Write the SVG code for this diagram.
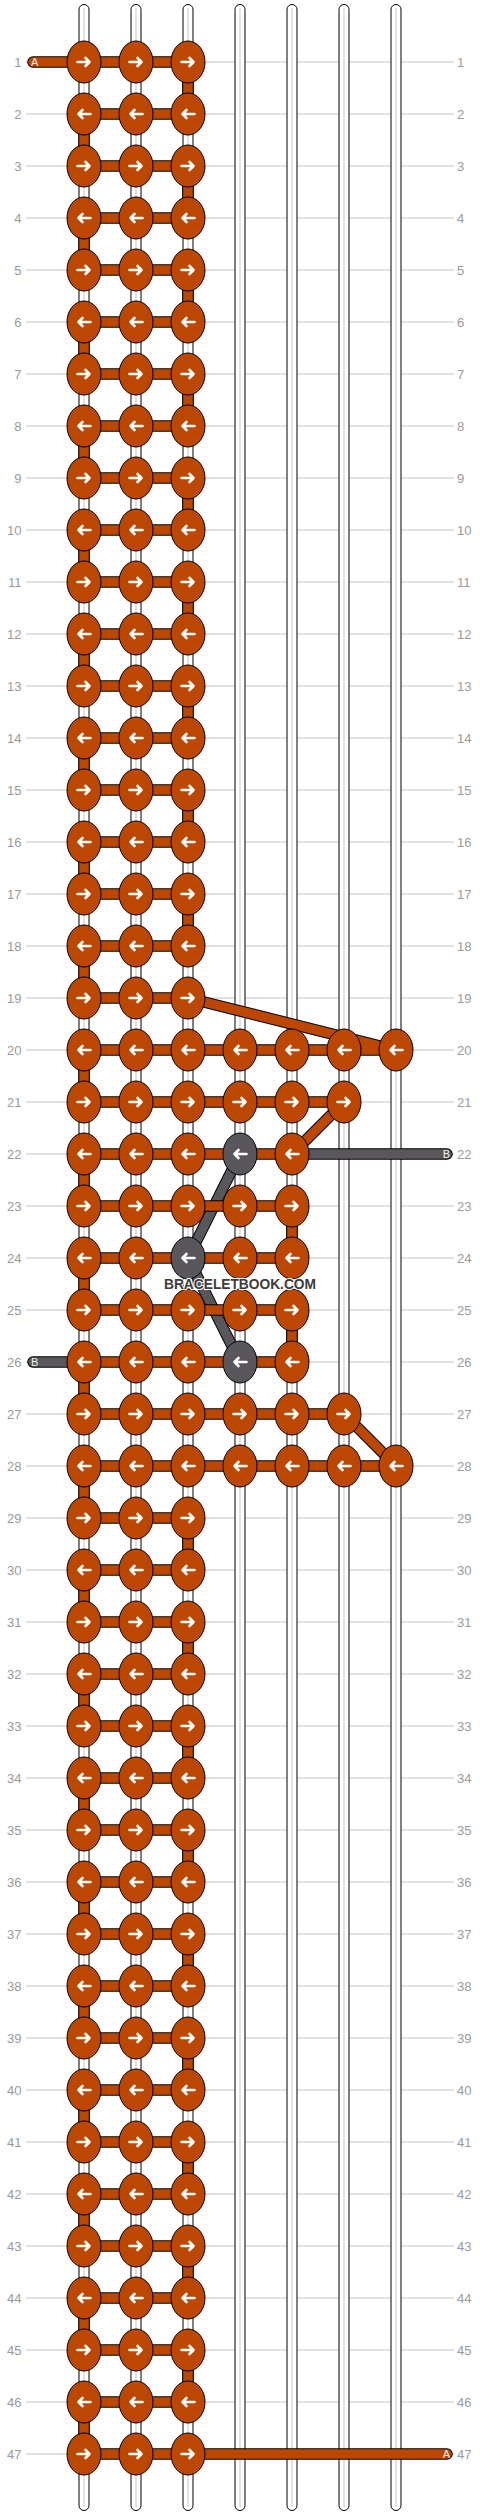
<svg xmlns="http://www.w3.org/2000/svg" xmlns:xlink="http://www.w3.org/1999/xlink" width="480" height="2516" viewBox="0 0 480 2516">
<style>
.grid{fill:none;stroke:#c2c2c2;stroke-width:1}
.sb{fill:#fff;stroke:#000;stroke-width:1}
.sc{fill:none;stroke:#c4c4c4;stroke-width:1}
.tb{fill:none;stroke:#000;stroke-width:11.5;stroke-linecap:round;stroke-linejoin:round}
.to{fill:none;stroke:#bc4700;stroke-width:9.5;stroke-linecap:round;stroke-linejoin:round}
.tg{fill:none;stroke:#59565c;stroke-width:9.5;stroke-linecap:round;stroke-linejoin:round}
.ko{fill:#bc4700;stroke:#000;stroke-width:1}
.kg{fill:#59565c;stroke:#000;stroke-width:1}
.ar{fill:none;stroke:#fff;stroke-width:2.6;stroke-linecap:round;stroke-linejoin:round}
.num{font-family:"Liberation Sans",Arial,sans-serif;font-size:13px;fill:#9a9a9a}
.ne{text-anchor:end}
.tag{font-family:"Liberation Sans",Arial,sans-serif;font-size:11px;fill:#f0f0f0}
.wm{font-family:"Liberation Sans",Arial,sans-serif;font-size:15px;font-weight:bold;fill:#3c3c3c;stroke:#fff;stroke-width:2;paint-order:stroke;text-anchor:middle}
</style>
<defs>
<path id="ra" class="ar" d="M-6.5 0H5.5M1.5-4L5.5 0 1.5 4"/>
<path id="la" class="ar" d="M6.5 0H-5.5M-1.5-4L-5.5 0-1.5 4"/>
<g id="R"><ellipse class="ko" rx="17" ry="21"/><use href="#ra"/></g>
<g id="L"><ellipse class="ko" rx="17" ry="21"/><use href="#la"/></g>
<g id="GL"><ellipse class="kg" rx="17" ry="21"/><use href="#la"/></g>
<path id="op" d="M33 62H188M84 114H188M84 166H188M84 218H188M84 270H188M84 322H188M84 374H188M84 426H188M84 478H188M84 530H188M84 582H188M84 634H188M84 686H188M84 738H188M84 790H188M84 842H188M84 894H188M84 946H188M84 998H188M84 1050H396M84 1102H344M84 1154H292M84 1206H292M84 1258H292M84 1310H292M84 1362H292M84 1414H344M84 1466H396M84 1518H188M84 1570H188M84 1622H188M84 1674H188M84 1726H188M84 1778H188M84 1830H188M84 1882H188M84 1934H188M84 1986H188M84 2038H188M84 2090H188M84 2142H188M84 2194H188M84 2246H188M84 2298H188M84 2350H188M84 2402H188M84 2454H447
M84 114V166M84 218V270M84 322V374M84 426V478M84 530V582M84 634V686M84 738V790M84 842V894M84 946V998M84 1050V1102M84 1154V1206M84 1258V1310M84 1362V1414M84 1466V1518M84 1570V1622M84 1674V1726M84 1778V1830M84 1882V1934M84 1986V2038M84 2090V2142M84 2194V2246M84 2298V2350M84 2402V2454
M188 62V114M188 166V218M188 270V322M188 374V426M188 478V530M188 582V634M188 686V738M188 790V842M188 894V946M188 1518V1570M188 1622V1674M188 1726V1778M188 1830V1882M188 1934V1986M188 2038V2090M188 2142V2194M188 2246V2298M188 2350V2402
M292 1206V1258M292 1310V1362
M188 998L396 1050M344 1102L292 1154M344 1414L396 1466"/>
<path id="gp" d="M240 1154L188 1258L240 1362M292 1154H447M33 1362H84"/>
</defs>
<rect width="480" height="2516" fill="#fff"/>
<g id="grid">
<path class="grid" d="M26 62H454M26 114H454M26 166H454M26 218H454M26 270H454M26 322H454M26 374H454M26 426H454M26 478H454M26 530H454M26 582H454M26 634H454M26 686H454M26 738H454M26 790H454M26 842H454M26 894H454M26 946H454M26 998H454M26 1050H454M26 1102H454M26 1154H454M26 1206H454M26 1258H454M26 1310H454M26 1362H454M26 1414H454M26 1466H454M26 1518H454M26 1570H454M26 1622H454M26 1674H454M26 1726H454M26 1778H454M26 1830H454M26 1882H454M26 1934H454M26 1986H454M26 2038H454M26 2090H454M26 2142H454M26 2194H454M26 2246H454M26 2298H454M26 2350H454M26 2402H454M26 2454H454"/>
</g>
<g id="row-labels">
<text class="num ne" x="21.5" y="66.5">1</text><text class="num" x="457" y="66.5">1</text>
<text class="num ne" x="21.5" y="118.5">2</text><text class="num" x="457" y="118.5">2</text>
<text class="num ne" x="21.5" y="170.5">3</text><text class="num" x="457" y="170.5">3</text>
<text class="num ne" x="21.5" y="222.5">4</text><text class="num" x="457" y="222.5">4</text>
<text class="num ne" x="21.5" y="274.5">5</text><text class="num" x="457" y="274.5">5</text>
<text class="num ne" x="21.5" y="326.5">6</text><text class="num" x="457" y="326.5">6</text>
<text class="num ne" x="21.5" y="378.5">7</text><text class="num" x="457" y="378.5">7</text>
<text class="num ne" x="21.5" y="430.5">8</text><text class="num" x="457" y="430.5">8</text>
<text class="num ne" x="21.5" y="482.5">9</text><text class="num" x="457" y="482.5">9</text>
<text class="num ne" x="21.5" y="534.5">10</text><text class="num" x="457" y="534.5">10</text>
<text class="num ne" x="21.5" y="586.5">11</text><text class="num" x="457" y="586.5">11</text>
<text class="num ne" x="21.5" y="638.5">12</text><text class="num" x="457" y="638.5">12</text>
<text class="num ne" x="21.5" y="690.5">13</text><text class="num" x="457" y="690.5">13</text>
<text class="num ne" x="21.5" y="742.5">14</text><text class="num" x="457" y="742.5">14</text>
<text class="num ne" x="21.5" y="794.5">15</text><text class="num" x="457" y="794.5">15</text>
<text class="num ne" x="21.5" y="846.5">16</text><text class="num" x="457" y="846.5">16</text>
<text class="num ne" x="21.5" y="898.5">17</text><text class="num" x="457" y="898.5">17</text>
<text class="num ne" x="21.5" y="950.5">18</text><text class="num" x="457" y="950.5">18</text>
<text class="num ne" x="21.5" y="1002.5">19</text><text class="num" x="457" y="1002.5">19</text>
<text class="num ne" x="21.5" y="1054.5">20</text><text class="num" x="457" y="1054.5">20</text>
<text class="num ne" x="21.5" y="1106.5">21</text><text class="num" x="457" y="1106.5">21</text>
<text class="num ne" x="21.5" y="1158.5">22</text><text class="num" x="457" y="1158.5">22</text>
<text class="num ne" x="21.5" y="1210.5">23</text><text class="num" x="457" y="1210.5">23</text>
<text class="num ne" x="21.5" y="1262.5">24</text><text class="num" x="457" y="1262.5">24</text>
<text class="num ne" x="21.5" y="1314.5">25</text><text class="num" x="457" y="1314.5">25</text>
<text class="num ne" x="21.5" y="1366.5">26</text><text class="num" x="457" y="1366.5">26</text>
<text class="num ne" x="21.5" y="1418.5">27</text><text class="num" x="457" y="1418.5">27</text>
<text class="num ne" x="21.5" y="1470.5">28</text><text class="num" x="457" y="1470.5">28</text>
<text class="num ne" x="21.5" y="1522.5">29</text><text class="num" x="457" y="1522.5">29</text>
<text class="num ne" x="21.5" y="1574.5">30</text><text class="num" x="457" y="1574.5">30</text>
<text class="num ne" x="21.5" y="1626.5">31</text><text class="num" x="457" y="1626.5">31</text>
<text class="num ne" x="21.5" y="1678.5">32</text><text class="num" x="457" y="1678.5">32</text>
<text class="num ne" x="21.5" y="1730.5">33</text><text class="num" x="457" y="1730.5">33</text>
<text class="num ne" x="21.5" y="1782.5">34</text><text class="num" x="457" y="1782.5">34</text>
<text class="num ne" x="21.5" y="1834.5">35</text><text class="num" x="457" y="1834.5">35</text>
<text class="num ne" x="21.5" y="1886.5">36</text><text class="num" x="457" y="1886.5">36</text>
<text class="num ne" x="21.5" y="1938.5">37</text><text class="num" x="457" y="1938.5">37</text>
<text class="num ne" x="21.5" y="1990.5">38</text><text class="num" x="457" y="1990.5">38</text>
<text class="num ne" x="21.5" y="2042.5">39</text><text class="num" x="457" y="2042.5">39</text>
<text class="num ne" x="21.5" y="2094.5">40</text><text class="num" x="457" y="2094.5">40</text>
<text class="num ne" x="21.5" y="2146.5">41</text><text class="num" x="457" y="2146.5">41</text>
<text class="num ne" x="21.5" y="2198.5">42</text><text class="num" x="457" y="2198.5">42</text>
<text class="num ne" x="21.5" y="2250.5">43</text><text class="num" x="457" y="2250.5">43</text>
<text class="num ne" x="21.5" y="2302.5">44</text><text class="num" x="457" y="2302.5">44</text>
<text class="num ne" x="21.5" y="2354.5">45</text><text class="num" x="457" y="2354.5">45</text>
<text class="num ne" x="21.5" y="2406.5">46</text><text class="num" x="457" y="2406.5">46</text>
<text class="num ne" x="21.5" y="2458.5">47</text><text class="num" x="457" y="2458.5">47</text>
</g>
<g id="strings">
<rect class="sb" x="79" y="4.5" width="10" height="2506" rx="5"/><rect class="sb" x="131" y="4.5" width="10" height="2506" rx="5"/><rect class="sb" x="183" y="4.5" width="10" height="2506" rx="5"/><rect class="sb" x="235" y="4.5" width="10" height="2506" rx="5"/><rect class="sb" x="287" y="4.5" width="10" height="2506" rx="5"/><rect class="sb" x="339" y="4.5" width="10" height="2506" rx="5"/><rect class="sb" x="391" y="4.5" width="10" height="2506" rx="5"/>
<path class="sc" d="M84 8V2507M136 8V2507M188 8V2507M240 8V2507M292 8V2507M344 8V2507M396 8V2507"/>
</g>
<g id="connectors">
<use href="#gp" class="tb"/><use href="#gp" class="tg"/>
<use href="#op" class="tb"/><use href="#op" class="to"/>
</g>
<g id="knots">
<g id="n1-1" transform="translate(84 62)"><use href="#R"/></g><g id="n1-2" transform="translate(136 62)"><use href="#R"/></g><g id="n1-3" transform="translate(188 62)"><use href="#R"/></g>
<g id="n2-1" transform="translate(84 114)"><use href="#L"/></g><g id="n2-2" transform="translate(136 114)"><use href="#L"/></g><g id="n2-3" transform="translate(188 114)"><use href="#L"/></g>
<g id="n3-1" transform="translate(84 166)"><use href="#R"/></g><g id="n3-2" transform="translate(136 166)"><use href="#R"/></g><g id="n3-3" transform="translate(188 166)"><use href="#R"/></g>
<g id="n4-1" transform="translate(84 218)"><use href="#L"/></g><g id="n4-2" transform="translate(136 218)"><use href="#L"/></g><g id="n4-3" transform="translate(188 218)"><use href="#L"/></g>
<g id="n5-1" transform="translate(84 270)"><use href="#R"/></g><g id="n5-2" transform="translate(136 270)"><use href="#R"/></g><g id="n5-3" transform="translate(188 270)"><use href="#R"/></g>
<g id="n6-1" transform="translate(84 322)"><use href="#L"/></g><g id="n6-2" transform="translate(136 322)"><use href="#L"/></g><g id="n6-3" transform="translate(188 322)"><use href="#L"/></g>
<g id="n7-1" transform="translate(84 374)"><use href="#R"/></g><g id="n7-2" transform="translate(136 374)"><use href="#R"/></g><g id="n7-3" transform="translate(188 374)"><use href="#R"/></g>
<g id="n8-1" transform="translate(84 426)"><use href="#L"/></g><g id="n8-2" transform="translate(136 426)"><use href="#L"/></g><g id="n8-3" transform="translate(188 426)"><use href="#L"/></g>
<g id="n9-1" transform="translate(84 478)"><use href="#R"/></g><g id="n9-2" transform="translate(136 478)"><use href="#R"/></g><g id="n9-3" transform="translate(188 478)"><use href="#R"/></g>
<g id="n10-1" transform="translate(84 530)"><use href="#L"/></g><g id="n10-2" transform="translate(136 530)"><use href="#L"/></g><g id="n10-3" transform="translate(188 530)"><use href="#L"/></g>
<g id="n11-1" transform="translate(84 582)"><use href="#R"/></g><g id="n11-2" transform="translate(136 582)"><use href="#R"/></g><g id="n11-3" transform="translate(188 582)"><use href="#R"/></g>
<g id="n12-1" transform="translate(84 634)"><use href="#L"/></g><g id="n12-2" transform="translate(136 634)"><use href="#L"/></g><g id="n12-3" transform="translate(188 634)"><use href="#L"/></g>
<g id="n13-1" transform="translate(84 686)"><use href="#R"/></g><g id="n13-2" transform="translate(136 686)"><use href="#R"/></g><g id="n13-3" transform="translate(188 686)"><use href="#R"/></g>
<g id="n14-1" transform="translate(84 738)"><use href="#L"/></g><g id="n14-2" transform="translate(136 738)"><use href="#L"/></g><g id="n14-3" transform="translate(188 738)"><use href="#L"/></g>
<g id="n15-1" transform="translate(84 790)"><use href="#R"/></g><g id="n15-2" transform="translate(136 790)"><use href="#R"/></g><g id="n15-3" transform="translate(188 790)"><use href="#R"/></g>
<g id="n16-1" transform="translate(84 842)"><use href="#L"/></g><g id="n16-2" transform="translate(136 842)"><use href="#L"/></g><g id="n16-3" transform="translate(188 842)"><use href="#L"/></g>
<g id="n17-1" transform="translate(84 894)"><use href="#R"/></g><g id="n17-2" transform="translate(136 894)"><use href="#R"/></g><g id="n17-3" transform="translate(188 894)"><use href="#R"/></g>
<g id="n18-1" transform="translate(84 946)"><use href="#L"/></g><g id="n18-2" transform="translate(136 946)"><use href="#L"/></g><g id="n18-3" transform="translate(188 946)"><use href="#L"/></g>
<g id="n19-1" transform="translate(84 998)"><use href="#R"/></g><g id="n19-2" transform="translate(136 998)"><use href="#R"/></g><g id="n19-3" transform="translate(188 998)"><use href="#R"/></g>
<g id="n20-1" transform="translate(84 1050)"><use href="#L"/></g><g id="n20-2" transform="translate(136 1050)"><use href="#L"/></g><g id="n20-3" transform="translate(188 1050)"><use href="#L"/></g><g id="n20-4" transform="translate(240 1050)"><use href="#L"/></g><g id="n20-5" transform="translate(292 1050)"><use href="#L"/></g><g id="n20-6" transform="translate(344 1050)"><use href="#L"/></g><g id="n20-7" transform="translate(396 1050)"><use href="#L"/></g>
<g id="n21-1" transform="translate(84 1102)"><use href="#R"/></g><g id="n21-2" transform="translate(136 1102)"><use href="#R"/></g><g id="n21-3" transform="translate(188 1102)"><use href="#R"/></g><g id="n21-4" transform="translate(240 1102)"><use href="#R"/></g><g id="n21-5" transform="translate(292 1102)"><use href="#R"/></g><g id="n21-6" transform="translate(344 1102)"><use href="#R"/></g>
<g id="n22-1" transform="translate(84 1154)"><use href="#L"/></g><g id="n22-2" transform="translate(136 1154)"><use href="#L"/></g><g id="n22-3" transform="translate(188 1154)"><use href="#L"/></g><g id="n22-4" transform="translate(240 1154)"><use href="#GL"/></g><g id="n22-5" transform="translate(292 1154)"><use href="#L"/></g>
<g id="n23-1" transform="translate(84 1206)"><use href="#R"/></g><g id="n23-2" transform="translate(136 1206)"><use href="#R"/></g><g id="n23-3" transform="translate(188 1206)"><use href="#R"/></g><g id="n23-4" transform="translate(240 1206)"><use href="#R"/></g><g id="n23-5" transform="translate(292 1206)"><use href="#R"/></g>
<g id="n24-1" transform="translate(84 1258)"><use href="#L"/></g><g id="n24-2" transform="translate(136 1258)"><use href="#L"/></g><g id="n24-3" transform="translate(188 1258)"><use href="#GL"/></g><g id="n24-4" transform="translate(240 1258)"><use href="#L"/></g><g id="n24-5" transform="translate(292 1258)"><use href="#L"/></g>
<g id="n25-1" transform="translate(84 1310)"><use href="#R"/></g><g id="n25-2" transform="translate(136 1310)"><use href="#R"/></g><g id="n25-3" transform="translate(188 1310)"><use href="#R"/></g><g id="n25-4" transform="translate(240 1310)"><use href="#R"/></g><g id="n25-5" transform="translate(292 1310)"><use href="#R"/></g>
<g id="n26-1" transform="translate(84 1362)"><use href="#L"/></g><g id="n26-2" transform="translate(136 1362)"><use href="#L"/></g><g id="n26-3" transform="translate(188 1362)"><use href="#L"/></g><g id="n26-4" transform="translate(240 1362)"><use href="#GL"/></g><g id="n26-5" transform="translate(292 1362)"><use href="#L"/></g>
<g id="n27-1" transform="translate(84 1414)"><use href="#R"/></g><g id="n27-2" transform="translate(136 1414)"><use href="#R"/></g><g id="n27-3" transform="translate(188 1414)"><use href="#R"/></g><g id="n27-4" transform="translate(240 1414)"><use href="#R"/></g><g id="n27-5" transform="translate(292 1414)"><use href="#R"/></g><g id="n27-6" transform="translate(344 1414)"><use href="#R"/></g>
<g id="n28-1" transform="translate(84 1466)"><use href="#L"/></g><g id="n28-2" transform="translate(136 1466)"><use href="#L"/></g><g id="n28-3" transform="translate(188 1466)"><use href="#L"/></g><g id="n28-4" transform="translate(240 1466)"><use href="#L"/></g><g id="n28-5" transform="translate(292 1466)"><use href="#L"/></g><g id="n28-6" transform="translate(344 1466)"><use href="#L"/></g><g id="n28-7" transform="translate(396 1466)"><use href="#L"/></g>
<g id="n29-1" transform="translate(84 1518)"><use href="#R"/></g><g id="n29-2" transform="translate(136 1518)"><use href="#R"/></g><g id="n29-3" transform="translate(188 1518)"><use href="#R"/></g>
<g id="n30-1" transform="translate(84 1570)"><use href="#L"/></g><g id="n30-2" transform="translate(136 1570)"><use href="#L"/></g><g id="n30-3" transform="translate(188 1570)"><use href="#L"/></g>
<g id="n31-1" transform="translate(84 1622)"><use href="#R"/></g><g id="n31-2" transform="translate(136 1622)"><use href="#R"/></g><g id="n31-3" transform="translate(188 1622)"><use href="#R"/></g>
<g id="n32-1" transform="translate(84 1674)"><use href="#L"/></g><g id="n32-2" transform="translate(136 1674)"><use href="#L"/></g><g id="n32-3" transform="translate(188 1674)"><use href="#L"/></g>
<g id="n33-1" transform="translate(84 1726)"><use href="#R"/></g><g id="n33-2" transform="translate(136 1726)"><use href="#R"/></g><g id="n33-3" transform="translate(188 1726)"><use href="#R"/></g>
<g id="n34-1" transform="translate(84 1778)"><use href="#L"/></g><g id="n34-2" transform="translate(136 1778)"><use href="#L"/></g><g id="n34-3" transform="translate(188 1778)"><use href="#L"/></g>
<g id="n35-1" transform="translate(84 1830)"><use href="#R"/></g><g id="n35-2" transform="translate(136 1830)"><use href="#R"/></g><g id="n35-3" transform="translate(188 1830)"><use href="#R"/></g>
<g id="n36-1" transform="translate(84 1882)"><use href="#L"/></g><g id="n36-2" transform="translate(136 1882)"><use href="#L"/></g><g id="n36-3" transform="translate(188 1882)"><use href="#L"/></g>
<g id="n37-1" transform="translate(84 1934)"><use href="#R"/></g><g id="n37-2" transform="translate(136 1934)"><use href="#R"/></g><g id="n37-3" transform="translate(188 1934)"><use href="#R"/></g>
<g id="n38-1" transform="translate(84 1986)"><use href="#L"/></g><g id="n38-2" transform="translate(136 1986)"><use href="#L"/></g><g id="n38-3" transform="translate(188 1986)"><use href="#L"/></g>
<g id="n39-1" transform="translate(84 2038)"><use href="#R"/></g><g id="n39-2" transform="translate(136 2038)"><use href="#R"/></g><g id="n39-3" transform="translate(188 2038)"><use href="#R"/></g>
<g id="n40-1" transform="translate(84 2090)"><use href="#L"/></g><g id="n40-2" transform="translate(136 2090)"><use href="#L"/></g><g id="n40-3" transform="translate(188 2090)"><use href="#L"/></g>
<g id="n41-1" transform="translate(84 2142)"><use href="#R"/></g><g id="n41-2" transform="translate(136 2142)"><use href="#R"/></g><g id="n41-3" transform="translate(188 2142)"><use href="#R"/></g>
<g id="n42-1" transform="translate(84 2194)"><use href="#L"/></g><g id="n42-2" transform="translate(136 2194)"><use href="#L"/></g><g id="n42-3" transform="translate(188 2194)"><use href="#L"/></g>
<g id="n43-1" transform="translate(84 2246)"><use href="#R"/></g><g id="n43-2" transform="translate(136 2246)"><use href="#R"/></g><g id="n43-3" transform="translate(188 2246)"><use href="#R"/></g>
<g id="n44-1" transform="translate(84 2298)"><use href="#L"/></g><g id="n44-2" transform="translate(136 2298)"><use href="#L"/></g><g id="n44-3" transform="translate(188 2298)"><use href="#L"/></g>
<g id="n45-1" transform="translate(84 2350)"><use href="#R"/></g><g id="n45-2" transform="translate(136 2350)"><use href="#R"/></g><g id="n45-3" transform="translate(188 2350)"><use href="#R"/></g>
<g id="n46-1" transform="translate(84 2402)"><use href="#L"/></g><g id="n46-2" transform="translate(136 2402)"><use href="#L"/></g><g id="n46-3" transform="translate(188 2402)"><use href="#L"/></g>
<g id="n47-1" transform="translate(84 2454)"><use href="#R"/></g><g id="n47-2" transform="translate(136 2454)"><use href="#R"/></g><g id="n47-3" transform="translate(188 2454)"><use href="#R"/></g>
</g>
<g id="thread-tags">
<text class="tag" x="31" y="66">A</text>
<text class="tag" x="450" y="2458" text-anchor="end">A</text>
<text class="tag" x="450" y="1158" text-anchor="end">B</text>
<text class="tag" x="31" y="1366">B</text>
</g>
<text class="wm" x="240" y="1289" textLength="152" lengthAdjust="spacingAndGlyphs">BRACELETBOOK.COM</text>
</svg>
